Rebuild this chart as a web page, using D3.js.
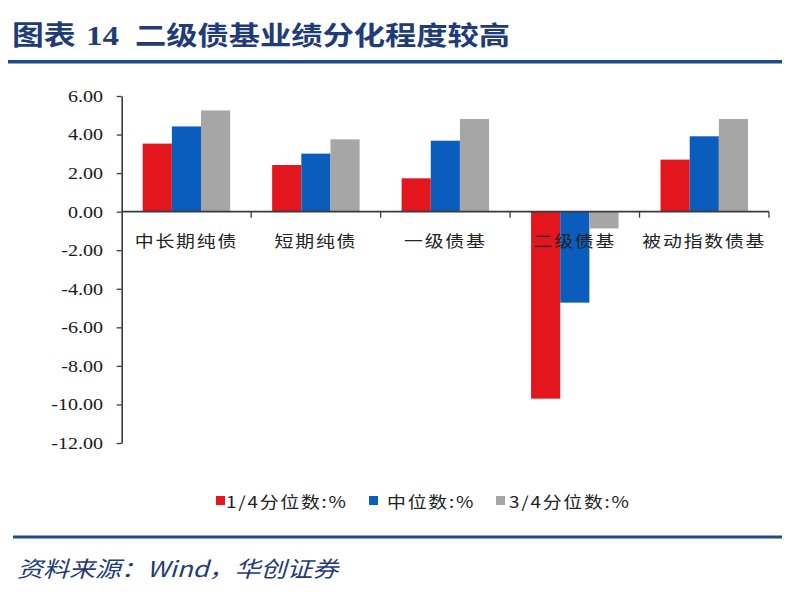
<!DOCTYPE html>
<html><head><meta charset="utf-8">
<script src="https://cdn.jsdelivr.net/npm/d3@7/dist/d3.min.js"></script>
<style>body{margin:0;background:#fff}svg{display:block}</style>
</head><body>
<svg id="c" width="805" height="605"></svg>
<script>
const categories = ["中长期纯债", "短期纯债", "一级债基", "二级债基", "被动指数债基"];
const seriesNames = ["1/4分位数:%", "中位数:%", "3/4分位数:%"];
const q1Values = [3.53, 2.42, 1.73, -9.70, 2.70];
const medianValues = [4.42, 3.01, 3.68, -4.72, 3.91];
const q3Values = [5.25, 3.75, 4.81, -0.87, 4.81];
const yTicks = [6, 4, 2, 0, -2, -4, -6, -8, -10, -12];
const colors = ["#E3151D", "#0B5DBD", "#A6A6A6"];

const seriesValues = [q1Values, medianValues, q3Values];
const svg = d3.select("#c");
const SX = 1.18;
const serif = "'Liberation Serif','Noto Sans CJK SC',serif";
const cjk = "'Noto Sans CJK SC','Liberation Serif',serif";

function stext(g, x, y, str, opts) {
  const t = g.append("g").attr("transform", `translate(${x},${y}) scale(${SX},1)`)
    .append("text").text(str)
    .attr("font-family", opts.family || serif)
    .attr("font-size", opts.size)
    .attr("fill", opts.fill || "#222")
    .attr("text-anchor", opts.anchor || "start")
    .attr("dominant-baseline", opts.baseline || "auto");
  if (opts.weight) t.attr("font-weight", opts.weight);
  if (opts.style) t.attr("font-style", opts.style);
  if (opts.ls) t.attr("letter-spacing", opts.ls);
  return t;
}

// Title
const titleColor = "#1F3C78";
stext(svg, 12, 45, "图表", {size: 27, weight: "bold", fill: titleColor, family: cjk});
stext(svg, 86, 45, "14", {size: 28, weight: "bold", fill: titleColor, family: serif});
stext(svg, 135, 45, "二级债基业绩分化程度较高", {size: 26.5, weight: "bold", fill: titleColor, family: cjk, ls: 0});
svg.append("rect").attr("x", 8).attr("y", 60).attr("width", 774).attr("height", 3.5).attr("fill", "#1F4A8A");

// Scales
const x = d3.scaleBand().domain(categories).range([121.7, 769]).paddingInner(0).paddingOuter(0);
const xs = d3.scaleBand().domain(seriesNames).range([0, x.bandwidth()]).paddingInner(0).paddingOuter(0.72);
const y = d3.scaleLinear().domain([-12, 6]).range([443, 96]);

// Bars
const plot = svg.append("g");
seriesNames.forEach((s, si) => {
  plot.selectAll(null).data(categories).enter().append("rect")
    .attr("x", c => x(c) + xs(s))
    .attr("width", xs.bandwidth())
    .attr("y", (c, i) => y(Math.max(0, seriesValues[si][i])))
    .attr("height", (c, i) => Math.abs(y(seriesValues[si][i]) - y(0)))
    .attr("fill", colors[si]);
});

// Y axis
const axisColor = "#3a3a3a";
const yAxis = svg.append("g").attr("transform", "translate(121.7,0)")
  .call(d3.axisLeft(y).tickValues(yTicks).tickSize(5).tickSizeOuter(0).tickFormat(d => ""));
yAxis.select(".domain").attr("stroke", axisColor).attr("stroke-width", 1.6);
yAxis.selectAll(".tick line").attr("stroke", axisColor).attr("stroke-width", 1.3);
yTicks.forEach(v => {
  stext(svg, 103, y(v), d3.format(".2f")(v).replace("−", "-"), {size: 17, anchor: "end", baseline: "central", fill: "#1a1a1a"});
});

// X axis at zero
const bounds = categories.map(c => x(c)).concat([x.range()[1]]);
const xAxis = svg.append("g").attr("transform", `translate(0,${y(0)})`);
xAxis.append("line").attr("x1", 121.7).attr("x2", 769).attr("stroke", axisColor).attr("stroke-width", 1.6);
xAxis.selectAll(null).data(bounds.slice(1)).enter().append("line")
  .attr("x1", d => d).attr("x2", d => d).attr("y1", 0).attr("y2", 6)
  .attr("stroke", axisColor).attr("stroke-width", 1.3);
categories.forEach(c => {
  stext(svg, x(c) + x.bandwidth() / 2, 247, c, {size: 16, anchor: "middle", family: cjk, fill: "#222", ls: 1.5});
});

// Legend
const legX = [216, 369, 496];
const legTextX = [226, 387, 509];
seriesNames.forEach((s, i) => {
  svg.append("rect").attr("x", legX[i]).attr("y", 496).attr("width", 9).attr("height", 9).attr("fill", colors[i]);
  stext(svg, legTextX[i], 501, s, {size: 16, baseline: "central", family: cjk, fill: "#222", ls: 1.5});
});

// Footer
svg.append("rect").attr("x", 13).attr("y", 535.5).attr("width", 769).attr("height", 3).attr("fill", "#1F4A8A");
stext(svg, 17, 577, "资料来源：Wind，华创证券", {size: 22, style: "italic", fill: "#1F3C78", family: cjk});
</script>
</body></html>
